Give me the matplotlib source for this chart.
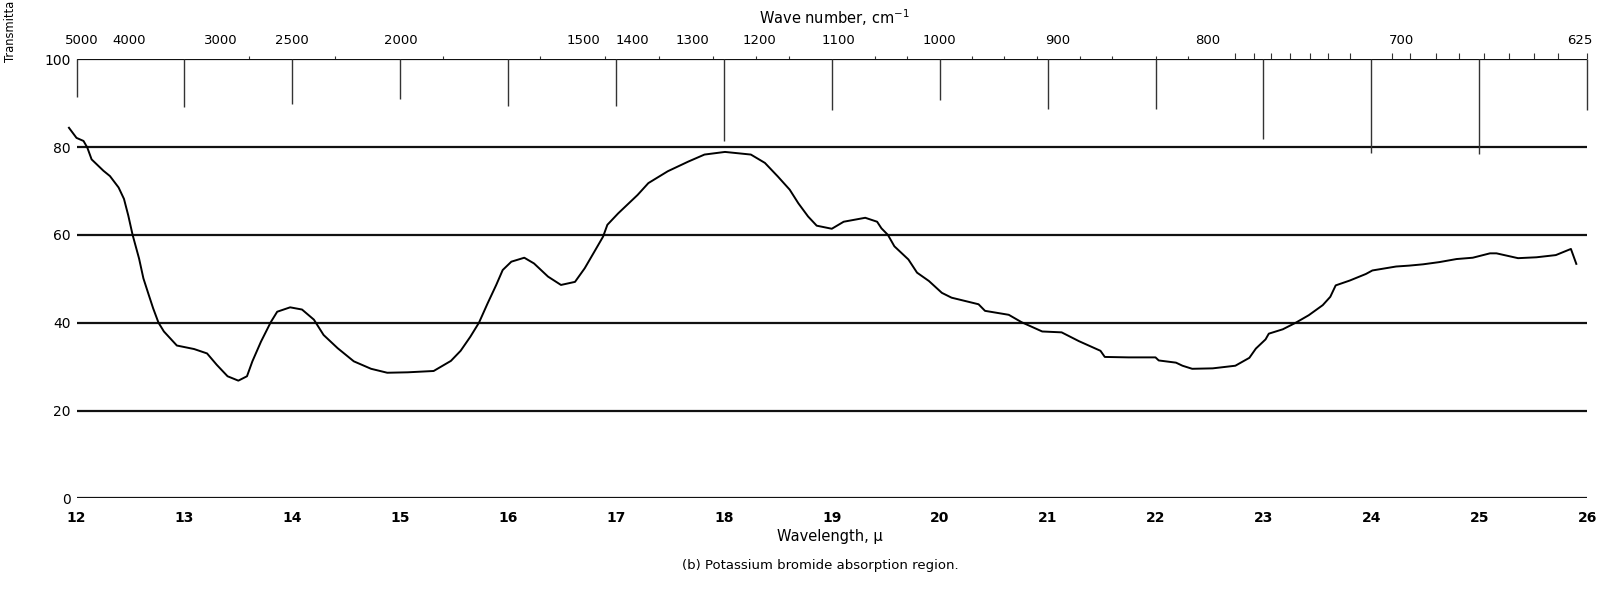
import matplotlib
matplotlib.use("Agg")
import matplotlib.pyplot as plt

plt.rcParams['font.family'] = ['DejaVu Sans']
plt.rcParams['mathtext.default'] = 'regular'

# ---- data ----
wavelength = [11.93, 12.00, 12.065, 12.10, 12.14, 12.25, 12.31, 12.39, 12.44, 12.48,
              12.52, 12.58, 12.62, 12.67, 12.71, 12.76, 12.81, 12.93, 13.09, 13.21,
              13.30, 13.40, 13.50, 13.58, 13.63, 13.71, 13.80, 13.86, 13.98, 14.09,
              14.20, 14.29, 14.42, 14.57, 14.73, 14.88, 15.07, 15.31, 15.47, 15.56,
              15.65, 15.73, 15.81, 15.89, 15.95, 16.03, 16.15, 16.24, 16.37, 16.49,
              16.62, 16.71, 16.80, 16.88, 16.92, 17.02, 17.20, 17.30, 17.48, 17.67,
              17.82, 18.01, 18.25, 18.38, 18.50, 18.61, 18.69, 18.78, 18.86, 19.00,
              19.11, 19.31, 19.42, 19.46, 19.52, 19.58, 19.71, 19.79, 19.90, 20.02,
              20.11, 20.36, 20.42, 20.64, 20.76, 20.95, 21.13, 21.29, 21.49, 21.53,
              21.75, 22.00, 22.03, 22.19, 22.25, 22.34, 22.53, 22.74, 22.87, 22.93,
              23.02, 23.05, 23.18, 23.30, 23.42, 23.55, 23.62, 23.67, 23.80, 23.95,
              24.01, 24.23, 24.35, 24.48, 24.63, 24.79, 24.94, 25.10, 25.16, 25.36,
              25.53, 25.71, 25.85, 25.90]
transmittance = [84.4, 82.1, 81.4, 79.9, 77.2, 74.6, 73.4, 70.8, 68.2, 64.4,
                 60.0, 54.6, 50.1, 46.3, 43.3, 40.0, 38.0, 34.8, 34.0, 33.0,
                 30.4, 27.8, 26.8, 27.8, 31.2, 35.7, 40.1, 42.5, 43.5, 43.0,
                 40.7, 37.2, 34.2, 31.2, 29.5, 28.6, 28.7, 29.0, 31.3, 33.6,
                 36.8, 40.0, 44.4, 48.6, 52.0, 53.9, 54.8, 53.5, 50.5, 48.6,
                 49.3, 52.4, 56.2, 59.6, 62.3, 64.9, 69.1, 71.8, 74.5, 76.7,
                 78.3, 78.9, 78.3, 76.4, 73.3, 70.3, 67.2, 64.2, 62.1, 61.4,
                 63.0, 63.9, 63.0, 61.5, 60.0, 57.4, 54.4, 51.4, 49.5, 46.8,
                 45.7, 44.2, 42.7, 41.8, 40.1, 38.0, 37.8, 35.8, 33.6, 32.2,
                 32.1, 32.1, 31.4, 30.9, 30.2, 29.5, 29.6, 30.2, 32.0, 34.1,
                 36.2, 37.5, 38.5, 40.0, 41.7, 44.0, 45.9, 48.5, 49.6, 51.1,
                 51.9, 52.8, 53.0, 53.3, 53.8, 54.5, 54.8, 55.8, 55.8, 54.7,
                 54.9, 55.4, 56.8, 53.4]

bottom_ticks = list(range(12, 27))
y_ticks = [0, 20, 40, 60, 80, 100]

# pen marks dropping from the 100 line at each micron
marker_positions = list(range(12, 27))
marker_ends = [91.3, 89.1, 89.8, 91.0, 89.4, 89.4, 81.3, 88.5, 90.8, 88.6,
               88.6, 81.8, 78.6, 78.5, 88.5]

wave_number_labels = ['5000', '4000', '3000', '2500', '2000', '1500', '1400', '1300',
                      '1200', '1100', '1000', '900', '800', '700', '625']
wave_number_pos = [12.05, 12.49, 13.34, 14.0, 15.01, 16.7, 17.15, 17.71,
                   18.33, 19.06, 20.0, 21.09, 22.48, 24.28, 25.93]
small_top_ticks = [22.74, 22.91, 23.07, 23.25, 23.43, 23.60, 23.80, 24.19,
                   24.36, 24.60, 24.81, 25.04, 25.28, 25.51, 25.73, 26.0]
faint_top_ticks = [13.6, 14.4, 15.4, 16.3, 16.9, 17.4, 17.9, 18.3, 18.6, 19.4,
                   19.7, 20.3, 20.6, 20.9, 21.3, 21.6, 22.0, 22.3]

# ---- figure ----
W, H = 1614, 589
fig = plt.figure(figsize=(W / 100, H / 100), dpi=100)
x_lo, x_hi = 11.92, 26.1
px_per_um = 107.9
x12 = 76.5
left_px = x12 - (12 - x_lo) * px_per_um
right_px = x12 + (x_hi - 12) * px_per_um
top_px, bot_px = 59.3, 498.3
ax = fig.add_axes([left_px / W, 1 - bot_px / H, (right_px - left_px) / W, (bot_px - top_px) / H])
ax.set_xlim(x_lo, x_hi)
ax.set_ylim(0, 100)
for s in ax.spines.values():
    s.set_visible(False)

# horizontal chart lines
ax.hlines(y_ticks, 12, 26, colors='#111111', linewidth=1.6, zorder=1)
# vertical pen marks
ax.vlines(marker_positions, marker_ends, 100, colors='#333333', linewidth=1.0, zorder=1)
# spectrum
ax.plot(wavelength, transmittance, color='black', linewidth=1.4, zorder=3, clip_on=False)

ax.set_xticks(bottom_ticks)
ax.set_xticklabels([str(t) for t in bottom_ticks], fontsize=10, fontweight='bold')
ax.tick_params(axis='x', length=0, pad=9)
ax.set_yticks(y_ticks)
ax.set_yticklabels([str(t) for t in y_ticks], fontsize=10)
ax.tick_params(axis='y', length=0, pad=-2)

# top wave number axis
sec = ax.secondary_xaxis('top')
for s in sec.spines.values():
    s.set_visible(False)
sec.set_xticks(wave_number_pos)
sec.set_xticklabels(wave_number_labels, fontsize=9.5)
sec.set_xticks(small_top_ticks + faint_top_ticks, minor=True)
sec.tick_params(axis='x', which='major', length=0, pad=9)
sec.tick_params(axis='x', which='minor', length=4, width=0.8, color='#333333', direction='out')
for t, pos in zip(sec.xaxis.get_minor_ticks(), small_top_ticks + faint_top_ticks):
    if pos in faint_top_ticks:
        t.tick2line.set_markersize(2)
        t.tick1line.set_markersize(2)
        t.tick2line.set_color('#888888')
        t.tick1line.set_color('#888888')

fig.text(834 / W, 1 - 18 / H, r'Wave number, cm$^{-1}$', ha='center', va='center', fontsize=10.5)
fig.text(830 / W, 1 - 536 / H, 'Wavelength, μ', ha='center', va='center', fontsize=10.5)
fig.text(820 / W, 1 - 565 / H, '(b) Potassium bromide absorption region.', ha='center',
         va='center', fontsize=9.5)
fig.text(10.5 / W, 1 - 1 / H, 'Transmitta', rotation=90, ha='center',
         va='top', fontsize=8.3)

fig.savefig('out.png', dpi=100)
